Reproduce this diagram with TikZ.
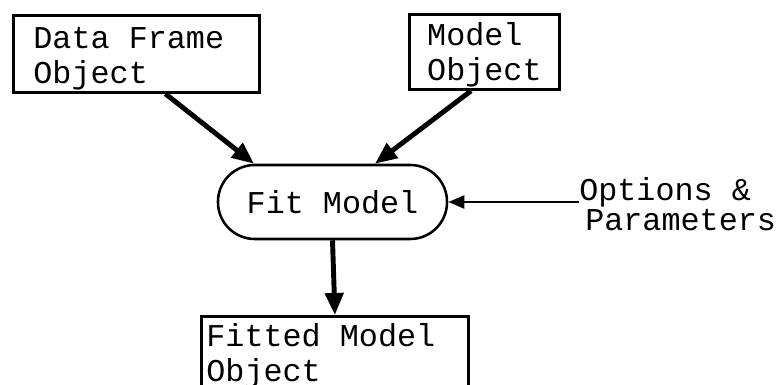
\documentclass[tikz,border=0pt]{standalone}
\usepackage{fontspec}
\setmainfont[WordSpace={1,0,0}]{Liberation Mono}
\usetikzlibrary{arrows.meta}

\begin{document}
\begin{tikzpicture}[x=0.025cm,y=-0.025cm,
  font=\fontsize{22.6}{25}\selectfont,
  objbox/.style={draw,line width=2pt,anchor=north west,align=flush left,inner sep=0pt},
  fitbox/.style={draw,line width=1.8pt,rounded corners=0.92cm,minimum width=5.725cm,minimum height=1.85cm},
  bigarrow/.style={line width=3.5pt,-{Triangle[length=0.55cm,width=0.45cm]}},
  thinarrow/.style={line width=2pt,-{Triangle[length=0.4cm,width=0.32cm]}}]
\clip (0,0) rectangle (777,385);
\node[objbox,minimum width=6.15cm,minimum height=1.925cm,text width=5.15cm] (df) at (12,14) {\rule{0pt}{0.95em}Data Frame\\Object};
\node[objbox,minimum width=3.75cm,minimum height=1.875cm] (mo) at (408,13) {\rule{0pt}{0.9em}Model\\Object};
\node[fitbox] (fit) at (332.5,202) {Fit Model};
\node[anchor=west,align=flush left,inner sep=0pt,font=\fontsize{22.6}{21.5}\selectfont] (opts) at (579,204) {Options \&\\\hspace{0.15cm}Parameters};
\node[objbox,minimum width=6.675cm,minimum height=1.975cm,text width=6.425cm] (fm) at (200,315) {Fitted Model\\Object};
\draw[bigarrow] (df.-54) -- (fit.154);
\draw[bigarrow] (mo.-109) -- (fit.42);
\draw[bigarrow] (fit.south) -- (fm.north);
\draw[thinarrow] (opts.west |- fit.east) -- (fit.east);
\end{tikzpicture}
\end{document}
